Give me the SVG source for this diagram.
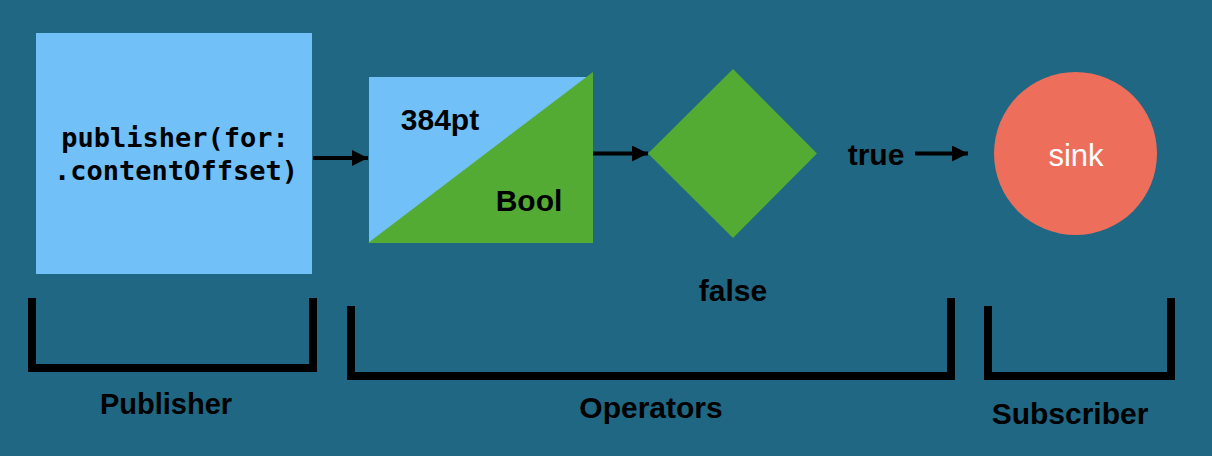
<svg xmlns="http://www.w3.org/2000/svg" width="1212" height="456" viewBox="0 0 1212 456">
  <style>
    .lbl { font-family: "Liberation Sans", Arial, sans-serif; font-weight: bold; font-size: 30px; fill: #000; text-anchor: middle; }
    .mono { font-family: "DejaVu Sans Mono", "Liberation Mono", monospace; font-weight: bold; font-size: 27px; fill: #000; text-anchor: middle; }
    .sink { font-family: "Liberation Sans", Arial, sans-serif; font-size: 31px; fill: #fff; text-anchor: middle; }
    .conn { stroke: #000; stroke-width: 4; fill: none; }
    .brk { stroke: #000; stroke-width: 8; fill: none; stroke-linecap: butt; }
  </style>
  <defs>
    <marker id="arr" markerUnits="userSpaceOnUse" markerWidth="16" markerHeight="16" refX="16" refY="8" orient="auto">
      <path d="M0,0 L16,8 L0,16 Z" fill="#000"/>
    </marker>
  </defs>
  <rect width="1212" height="456" fill="#1f6783"/>

  <g id="publisher">
    <rect x="36" y="33" width="276" height="241" fill="#71c0f8"/>
    <text class="mono" x="175" y="147">publisher(for:</text>
    <text class="mono" x="176" y="180">.contentOffset)</text>
  </g>

  <g id="map">
    <rect x="369" y="77" width="224" height="165" fill="#71c0f8"/>
    <polygon points="368,243 593,72 593,243" fill="#53ab33"/>
    <text class="lbl" x="440" y="130">384pt</text>
    <text class="lbl" x="529" y="211">Bool</text>
  </g>

  <g id="filter">
    <polygon points="648,153.5 733,69 817,153.5 733,238" fill="#53ab33"/>
  </g>

  <g id="sink">
    <ellipse cx="1075.5" cy="153.5" rx="81.5" ry="81.5" fill="#ed6e5a"/>
    <text class="sink" x="1076" y="166">sink</text>
  </g>

  <g id="connectors">
    <path class="conn" d="M313,158 H368" marker-end="url(#arr)"/>
    <path class="conn" d="M593,153.5 H648" marker-end="url(#arr)"/>
    <path class="conn" d="M915,153.5 H968" marker-end="url(#arr)"/>
    <text class="lbl" x="876" y="165">true</text>
    <text class="lbl" x="733" y="301">false</text>
  </g>

  <g id="groups">
    <path class="brk" d="M32,298 V368 H313 V298"/>
    <path class="brk" d="M351,306 V376 H951 V298"/>
    <path class="brk" d="M988,306 V376 H1171 V298"/>
    <text class="lbl" x="166" y="414" style="font-size:29px">Publisher</text>
    <text class="lbl" x="651" y="418">Operators</text>
    <text class="lbl" x="1070" y="424">Subscriber</text>
  </g>
</svg>
